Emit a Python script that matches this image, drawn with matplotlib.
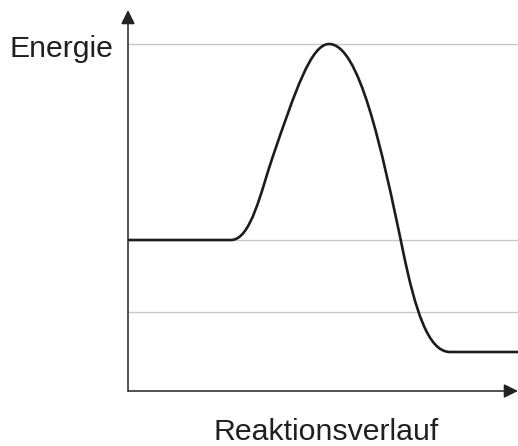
import matplotlib
matplotlib.use('Agg')
import matplotlib.pyplot as plt
from matplotlib.path import Path
from matplotlib.patches import PathPatch

# energy profile (arbitrary units):
# on-curve points and the Bezier control points between them
reaction = [0, 103, 123, 133, 145, 167, 183, 201, 231, 253, 275, 287, 300, 322, 390]
energy = [151, 151, 151, 200, 235, 299, 347, 347, 347, 246, 140, 82, 39, 39, 39]
codes = [Path.MOVETO, Path.LINETO,
         Path.CURVE4, Path.CURVE4, Path.CURVE4,
         Path.CURVE4, Path.CURVE4, Path.CURVE4,
         Path.CURVE4, Path.CURVE4, Path.CURVE4,
         Path.CURVE4, Path.CURVE4, Path.CURVE4,
         Path.LINETO]
levels = [347, 151, 79]          # grey reference lines
x_label = 'Reaktionsverlauf'
y_label = 'Energie'

W, H = 518, 446
fig = plt.figure(figsize=(W / 100, H / 100), dpi=100)
ax = fig.add_axes([128 / W, (H - 391) / H, 390 / W, 381 / H])
ax.set_xlim(0, 390)
ax.set_ylim(0, 381)
ax.axis('off')

for lv in levels:
    ax.plot([0, 390], [lv, lv], color='#c8c8c8', lw=1.0, solid_capstyle='butt', zorder=1)

profile = Path(list(zip(reaction, energy)), codes)
ax.add_patch(PathPatch(profile, fill=False, edgecolor='#1c1c1c', lw=1.9,
                       joinstyle='round', capstyle='butt', zorder=3, clip_on=False))

arrow = dict(arrowstyle='-|>,head_length=0.85,head_width=0.42', color='#222222',
             lw=1.1, shrinkA=0, shrinkB=0, mutation_scale=10)
ax.annotate('', xy=(0, 381), xytext=(0, 0), arrowprops=arrow, annotation_clip=False)
ax.annotate('', xy=(390, 0), xytext=(0, 0), arrowprops=arrow, annotation_clip=False)

font = dict(family='Liberation Sans', size=21.8, color='#231f20')
fig.text(10 / W, 1 - 57 / H, y_label, ha='left', va='baseline', **font)
fig.text(326 / W, 1 - 440 / H, x_label, ha='center', va='baseline', **font)

fig.savefig('out.png', dpi=100)
